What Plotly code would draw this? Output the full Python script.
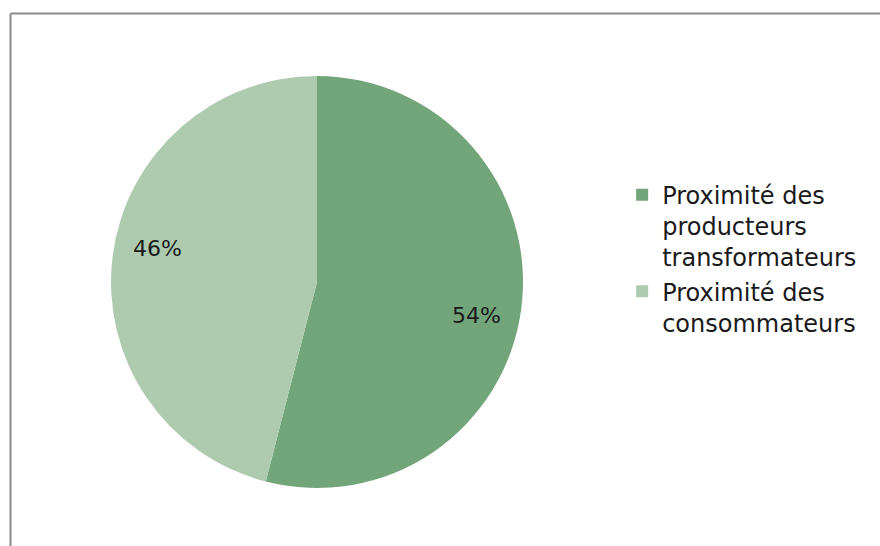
import math
import plotly.graph_objects as go

# Répartition des réponses
labels = ["Proximité des<br>producteurs<br>transformateurs", "Proximité des<br>consommateurs"]
values = [54, 46]
colors = ["#72a57a", "#aecbb0"]

W, H = 880, 546
FONT = "DejaVu Sans, sans-serif"
TEXT_COLOR = "#1a1a1a"

# Emplacement du camembert (en pixels de la page)
PIE_LEFT, PIE_RIGHT, PIE_TOP, PIE_BOTTOM = 111, 523, 76, 488
dom_x = [PIE_LEFT / W, PIE_RIGHT / W]
dom_y = [1 - PIE_BOTTOM / H, 1 - PIE_TOP / H]

fig = go.Figure(
    go.Pie(
        labels=labels,
        values=values,
        sort=False,
        direction="clockwise",
        rotation=0,
        marker=dict(colors=colors, line=dict(width=0)),
        textinfo="none",
        domain=dict(x=dom_x, y=dom_y),
        hoverinfo="label+percent",
    )
)

# Étiquettes de pourcentage placées près de l'angle médian de chaque part
cx = (dom_x[0] + dom_x[1]) / 2
cy = (dom_y[0] + dom_y[1]) / 2
rx = (dom_x[1] - dom_x[0]) / 2
ry = (dom_y[1] - dom_y[0]) / 2
label_r = 0.79
label_shift = math.radians(4.5)
total = sum(values)
cum = 0
for v in values:
    mid = (cum + v / 2) / total * 2 * math.pi + label_shift  # depuis midi, sens horaire
    cum += v
    fig.add_annotation(
        xref="paper", yref="paper",
        x=cx + label_r * rx * math.sin(mid),
        y=cy + label_r * ry * math.cos(mid),
        text=f"{round(v / total * 100)}%",
        showarrow=False,
        xanchor="center", yanchor="middle",
        font=dict(family=FONT, size=22, color=TEXT_COLOR),
    )

# Cadre gris du graphique
fig.add_shape(type="line", xref="paper", yref="paper",
              x0=10.5 / W, x1=1.0, y0=1 - 13.5 / H, y1=1 - 13.5 / H,
              line=dict(color="#8a8a8a", width=2))
fig.add_shape(type="line", xref="paper", yref="paper",
              x0=10.5 / W, x1=10.5 / W, y0=0, y1=1 - 13.5 / H,
              line=dict(color="#8a8a8a", width=2))

fig.update_layout(
    width=W, height=H,
    margin=dict(l=0, r=0, t=0, b=0),
    paper_bgcolor="white",
    plot_bgcolor="white",
    showlegend=True,
    legend=dict(
        x=0.707, y=0.684, xanchor="left", yanchor="top",
        valign="top",
        font=dict(family=FONT, size=24, color=TEXT_COLOR),
        bgcolor="rgba(0,0,0,0)",
        itemclick=False,
    ),
)

fig.write_html("out.html")
